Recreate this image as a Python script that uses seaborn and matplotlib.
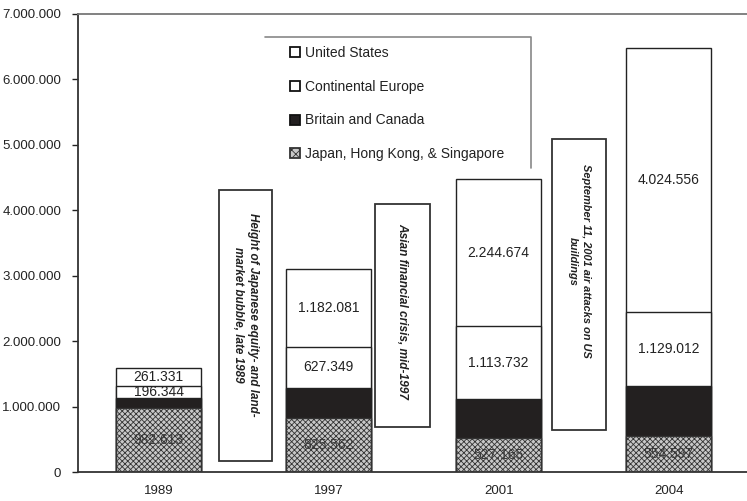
import matplotlib
matplotlib.use("Agg")
import matplotlib.pyplot as plt
import matplotlib.patches as mpatches
from matplotlib.ticker import FuncFormatter
import seaborn as sns
import pandas as pd
import numpy as np

years = ["1989", "1997", "2001", "2004"]
japan = [982613, 825562, 527165, 554597]
britain = [145000, 465000, 590000, 765000]
europe = [196344, 627349, 1113732, 1129012]
us = [261331, 1182081, 2244674, 4024556]
series_names = ["United States", "Continental Europe", "Britain and Canada",
                "Japan, Hong Kong, & Singapore"]
events = ["Height of Japanese equity- and land-\nmarket bubble, late 1989",
          "Asian financial crisis, mid-1997",
          "September 11, 2001 air attacks on US\nbuildings"]

sns.set_theme(style="white")
plt.rcParams["font.family"] = ["Liberation Sans", "DejaVu Sans"]
plt.rcParams["hatch.linewidth"] = 0.6

fig = plt.figure(figsize=(7.47, 5.01), dpi=100)
ax = fig.add_axes([0.1044, 0.0573, 0.8956, 0.9157])

j = np.array(japan, float)
b = np.array(britain, float)
e = np.array(europe, float)
u = np.array(us, float)
layers = [
    (j + b + e + u, dict(color="white", edgecolor="#222222")),
    (j + b + e, dict(color="white", edgecolor="#222222")),
    (j + b, dict(color="#231f20", edgecolor="#222222")),
    (j, dict(color="#c8c8c8", edgecolor="#333333", hatch="xxxxxx")),
]
for tops, kw in layers:
    df = pd.DataFrame({"year": years, "v": tops})
    sns.barplot(data=df, x="year", y="v", ax=ax, width=0.5, linewidth=1.0,
                **kw)

def fmt(v):
    return f"{int(v):,}".replace(",", ".")

# value labels
for i in range(len(years)):
    ax.text(i, j[i] / 2, fmt(japan[i]), ha="center", va="center",
            fontsize=10, color="#3a3a3a")
    ax.text(i, j[i] + b[i] + e[i] / 2, fmt(europe[i]), ha="center",
            va="center", fontsize=10, color="#222222")
    ax.text(i, j[i] + b[i] + e[i] + u[i] / 2, fmt(us[i]), ha="center",
            va="center", fontsize=10, color="#222222")

# event boxes: x0, x1, y0, y1, text y, font size
boxes = [(0.356, 0.668, 0.174e6, 4.303e6, 2.41e6, 8.4),
         (1.274, 1.597, 0.69e6, 4.093e6, 2.46e6, 8.6),
         (2.315, 2.632, 0.645e6, 5.08e6, 3.22e6, 7.9)]
for (x0, x1, y0, y1, ty, fs), txt in zip(boxes, events):
    ax.add_patch(mpatches.Rectangle((x0, y0), x1 - x0, y1 - y0,
                                    facecolor="white", edgecolor="#333333",
                                    lw=1.3, zorder=3))
    ax.text((x0 + x1) / 2, ty, txt, rotation=-90, ha="center", va="center",
            fontsize=fs, fontweight="bold", fontstyle="italic",
            color="#222222", zorder=4, linespacing=1.35)

# legend frame (top and right edges visible)
ax.plot([(265 - 78) / 669, (531 - 78) / 669, (531 - 78) / 669],
        [(472.3 - 37) / 458.8, (472.3 - 37) / 458.8, (472.3 - 168) / 458.8],
        transform=ax.transAxes, color="#888888", lw=1.2, zorder=2)
handles = [
    mpatches.Patch(facecolor="white", edgecolor="#111111", lw=1.3),
    mpatches.Patch(facecolor="white", edgecolor="#111111", lw=1.3),
    mpatches.Patch(facecolor="#231f20", edgecolor="#111111", lw=1.3),
    mpatches.Patch(facecolor="#c8c8c8", edgecolor="#333333", hatch="xxxx", lw=1.3),
]
leg = ax.legend(handles, series_names, loc="upper left",
                bbox_to_anchor=((290 - 78) / 669, (472.3 - 46) / 458.8),
                frameon=False, fontsize=10, handlelength=0.75, handleheight=0.75,
                handletextpad=0.35, labelspacing=1.42, borderaxespad=0,
                borderpad=0)
for t in leg.get_texts():
    t.set_color("#222222")
leg.set_zorder(5)

ax.set_xlim(-0.4735, 3.46)
ax.set_ylim(0, 7000000)
ax.set_yticks(np.arange(0, 7000001, 1000000))
ax.yaxis.set_major_formatter(FuncFormatter(lambda v, p: fmt(v)))
ax.set_xlabel("")
ax.set_ylabel("")
ax.tick_params(axis="y", labelsize=9.5, length=4, width=1, pad=8, left=True,
               colors="#222222")
ax.tick_params(axis="x", labelsize=9.5, length=0, pad=9, colors="#222222")
for s in ["left", "bottom", "top"]:
    ax.spines[s].set_visible(True)
    ax.spines[s].set_color("#333333")
    ax.spines[s].set_linewidth(1.3)
ax.spines["top"].set_color("#777777")
ax.spines["right"].set_visible(False)
ax.grid(False)

fig.savefig("out.png", dpi=100)
